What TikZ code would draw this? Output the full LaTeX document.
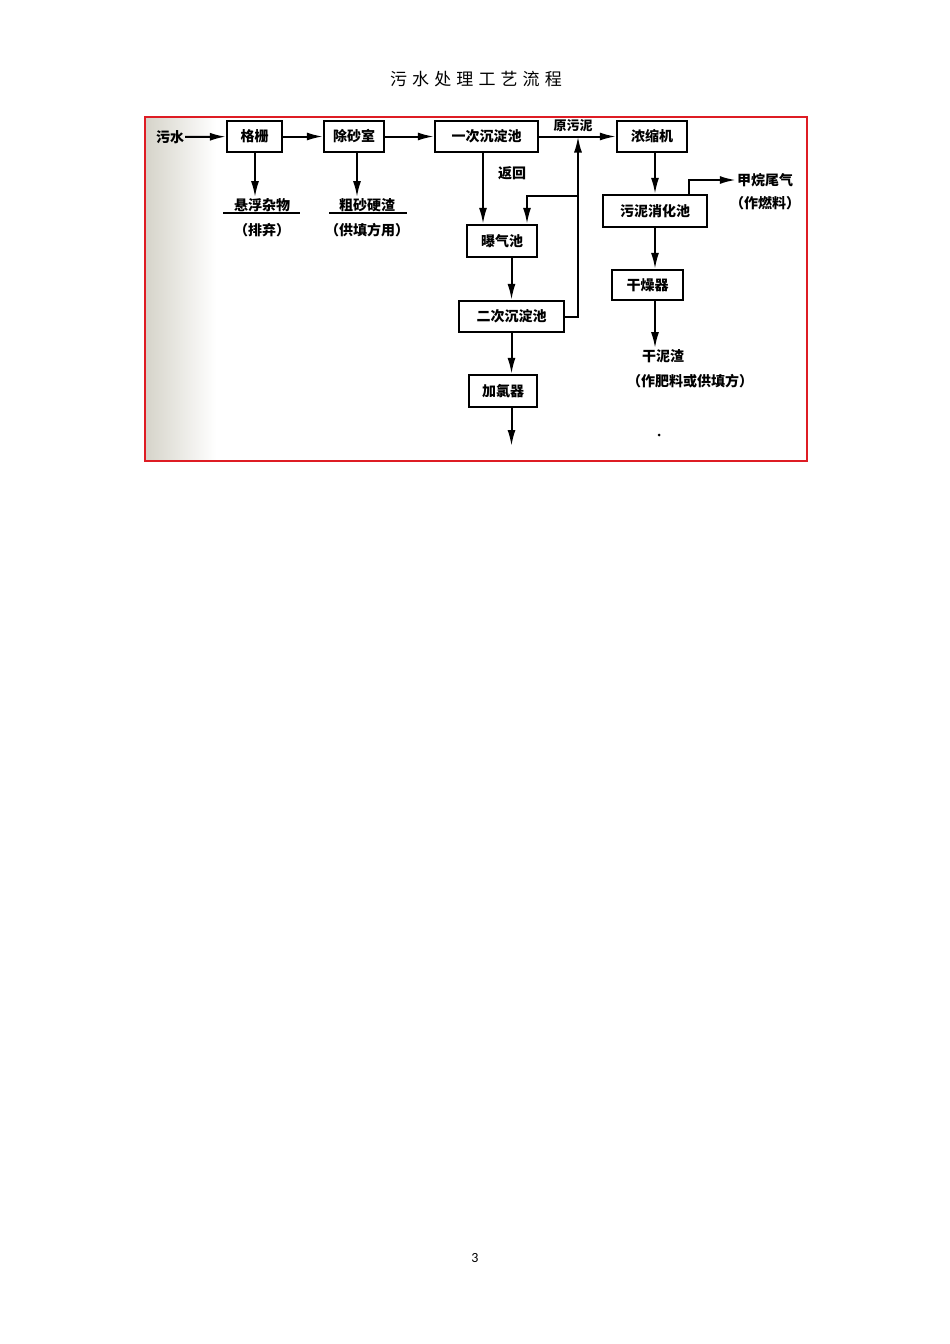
\documentclass[tikz,border=0pt]{standalone}
\usepackage{fontspec}
\setmainfont{Noto Sans CJK SC}
\newfontfamily\titlefont[LetterSpace=30]{Noto Sans CJK SC}
\newfontfamily\pagefont{Carlito}
\usepackage{tikz}
\usetikzlibrary{arrows.meta,positioning}
\usepackage{xcolor}
\definecolor{swred}{RGB}{222,28,36}
\definecolor{swgray}{RGB}{214,212,202}
\tikzstyle{arrow} = [line width=2pt,-{Latex[length=16pt,width=8pt]}]
\tikzstyle{tank} = [rectangle, draw, line width=2.2pt, minimum height=31pt, inner sep=0pt, font=\fontsize{14}{16}\selectfont\bfseries]
\tikzstyle{note} = [inner sep=1pt, font=\fontsize{14}{16}\selectfont\bfseries]

\begin{document}
\begin{tikzpicture}[x=1pt, y=-1pt]
\useasboundingbox (0,0) rectangle (950,1344);
% Title and page number
\node[font=\titlefont\fontsize{17}{19}\selectfont] (title) at (476,79) {污水处理工艺流程};
\node[font=\pagefont\fontsize{14}{16}\selectfont] (page) at (475,1258) {3};
% Frame background
\shade[left color=swgray, right color=white] (146,118) rectangle (216,460);

% Units
\node[tank, minimum width=55pt] (geshan) at (254.5,136.5) {格栅};
\node[tank, minimum width=60pt] (chusha) at (354,136.5) {除砂室};
\node[tank, minimum width=103pt] (yici) at (486.5,136.5) {一次沉淀池};
\node[tank, minimum width=70pt] (nongsuo) at (652,136.5) {浓缩机};
\node[tank, minimum width=70pt, minimum height=32pt] (baoqi) at (502,241) {曝气池};
\node[tank, minimum width=105pt] (erci) at (511.5,316.5) {二次沉淀池};
\node[tank, minimum width=68pt, minimum height=32pt] (jialv) at (503,391) {加氯器};
\node[tank, minimum width=104pt, minimum height=32pt] (xiaohua) at (655,211) {污泥消化池};
\node[tank, minimum width=71pt, minimum height=30pt] (ganzao) at (647.5,285) {干燥器};

% Inputs and outputs
\node[note] (wushui) at (170,137) {污水};
\node[note] (xuanfu) at (262,205) {悬浮杂物};
\node[note] (paiqi) at (262,230) {（排弃）};
\node[note] (cuzha) at (367,205) {粗砂硬渣};
\node[note] (tianfang) at (367,230) {（供填方用）};
\node[note, font=\fontsize{13}{15}\selectfont\bfseries] (yuanni) at (573,126) {原污泥};
\node[note] (fanhui) at (512,173) {返回};
\node[note] (jiawan) at (765,180) {甲烷尾气};
\node[note] (ranliao) at (765,203) {（作燃料）};
\node[note] (ganni) at (663,356) {干泥渣};
\node[note] (feiliao) at (690,381) {（作肥料或供填方）};
\coordinate (junc) at (578,136.5);
\coordinate (fork) at (578,196);
\coordinate (outlet) at (511.5,446);

\draw[line width=1.5pt] ([xshift=-39pt]xuanfu.south) -- ([xshift=38pt]xuanfu.south);
\draw[line width=1.5pt] ([xshift=-38pt]cuzha.south) -- ([xshift=40pt]cuzha.south);

% Main line
\draw[arrow] (wushui) -- (geshan);
\draw[arrow] (geshan) -- (chusha);
\draw[arrow] (chusha) -- (yici);
\draw[arrow] (yici) -- (nongsuo);
\draw[arrow] ([xshift=0.5pt]geshan.south) -- ([xshift=0.5pt]geshan.south |- xuanfu.north);
\draw[arrow] ([xshift=3pt]chusha.south) -- ([xshift=3pt]chusha.south |- cuzha.north);
\draw[arrow] ([xshift=-19pt]baoqi.north |- yici.south) -- ([xshift=-19pt]baoqi.north);
\draw[arrow] (erci.north |- baoqi.south) -- (erci.north);
\draw[arrow] (erci.south) -- (erci.south |- jialv.north);
\draw[arrow] (erci.south |- jialv.south) -- (outlet);

% Sludge return
\draw[arrow] (erci.east) -| (junc);
\draw[arrow] (fork) -| ([xshift=25pt]baoqi.north);

% Sludge line
\draw[arrow] (xiaohua.north |- nongsuo.south) -- (xiaohua.north);
\draw[arrow] ([xshift=34pt]xiaohua.north) |- (jiawan.west);
\draw[arrow] (xiaohua.south) -- (xiaohua.south |- ganzao.north);
\draw[arrow] (xiaohua.south |- ganzao.south) -- (xiaohua.south |- ganni.north);
\fill (659,435) circle (1.5pt);

% Frame
\draw[swred, line width=2pt] (145,117) rectangle (807,461);
\end{tikzpicture}
\end{document}
